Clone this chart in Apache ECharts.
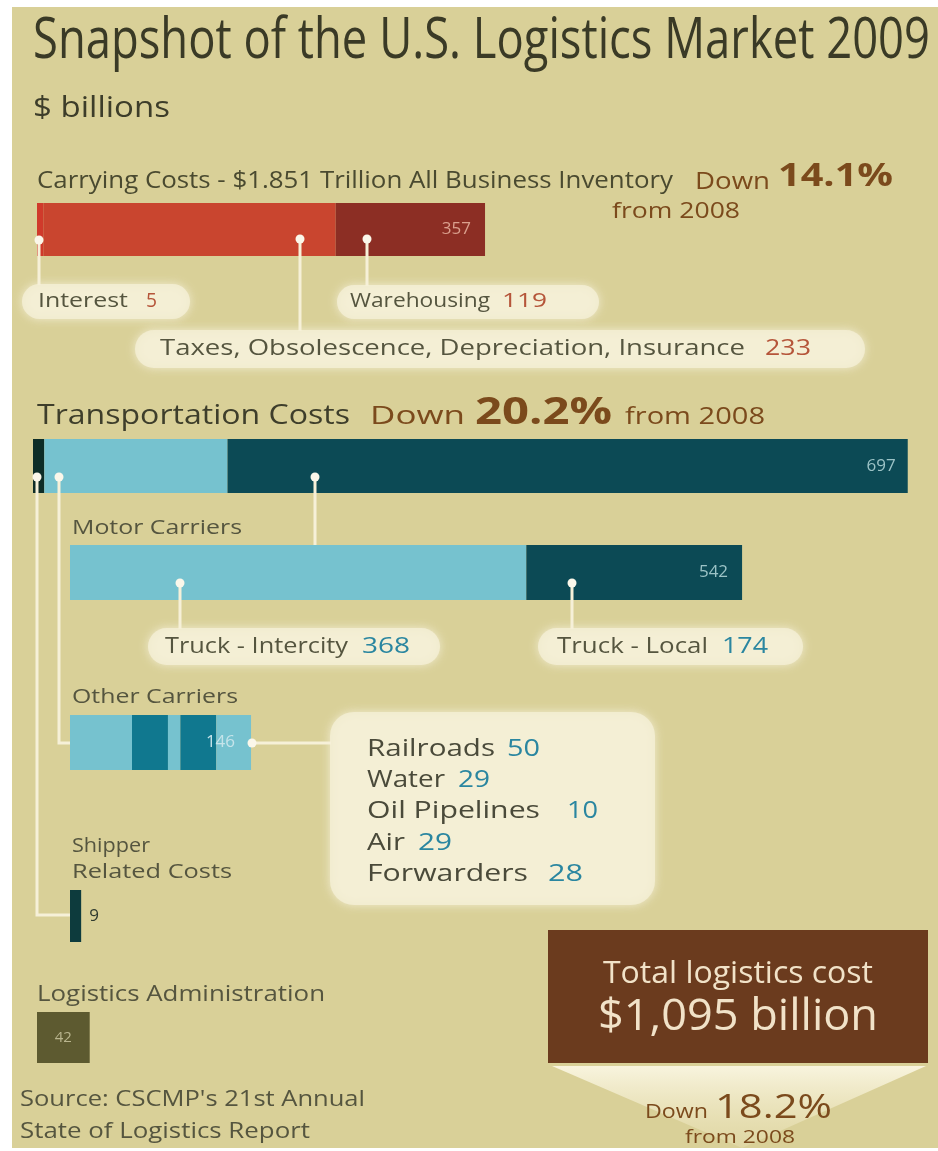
<!DOCTYPE html>
<html>
<head>
<meta charset="utf-8">
<script src="https://cdn.jsdelivr.net/npm/echarts@6/dist/echarts.min.js"></script>
<style>
  html, body { margin: 0; padding: 0; background: #ffffff; }
  #chart { width: 938px; height: 1151px; }
</style>
</head>
<body>
<div id="chart"></div>
<script>
// ---- data ($ billions) ----
const carryingNames = ['Interest', 'Taxes, Obsolescence, Depreciation, Insurance', 'Warehousing']
const carryingValues = [5, 233, 119]
const transportNames = ['Shipper Related Costs', 'Other Carriers', 'Motor Carriers']
const transportValues = [9, 146, 542]
const motorNames = ['Truck - Intercity', 'Truck - Local']
const motorValues = [368, 174]
const otherNames = ['Railroads', 'Water', 'Oil Pipelines', 'Air', 'Forwarders']
const otherValues = [50, 29, 10, 29, 28]
const shipperValues = [9]
const adminValues = [42]
const changeFrom2008 = { carrying: '14.1%', transport: '20.2%', total: '18.2%' }
const totalCostText = '$1,095 billion'

// ---- layout ----
const K = 1.255          // px per billion
const AXIS_MAX = 700
const FONT = '"Open Sans", "Noto Sans", sans-serif'
const LIGHT_BLUE = '#76c2cf'
const DARK_TEAL = '#0c4a55'
const MID_TEAL = '#10788f'

const sum = (a) => a.reduce((s, v) => s + v, 0)

const rows = [
  { left: 37, top: 203, height: 53, values: carryingValues, names: carryingNames,
    colors: ['#d03a2b', '#c9452f', '#8c2e24'], label: { color: '#dba08e', fontSize: 17, distance: 14 } },
  { left: 33, top: 439, height: 54, values: transportValues, names: transportNames,
    colors: ['#0e2d27', LIGHT_BLUE, DARK_TEAL], label: { color: '#9cc3c6', fontSize: 17, distance: 12 } },
  { left: 70, top: 545, height: 55, values: motorValues, names: motorNames,
    colors: [LIGHT_BLUE, DARK_TEAL], label: { color: '#9cc3c6', fontSize: 17, distance: 14 } },
  { left: 70, top: 715, height: 55, values: otherValues, names: otherNames,
    colors: [LIGHT_BLUE, MID_TEAL, LIGHT_BLUE, MID_TEAL, LIGHT_BLUE], label: { color: '#c6e4ea', fontSize: 17, distance: 16 } },
  { left: 70, top: 890, height: 52, values: shipperValues, names: ['Shipper Related Costs'],
    colors: ['#0d3b3d'], label: { color: '#2f3a2f', fontSize: 17, position: 'right', distance: 8 } },
  { left: 37, top: 1012, height: 51, values: adminValues, names: ['Logistics Administration'],
    colors: ['#5d5a30'], label: { color: '#b9b58e', fontSize: 15, position: 'inside' } },
]

const grids = [], xAxes = [], yAxes = [], series = []
rows.forEach((row, gi) => {
  grids.push({ left: row.left, top: row.top, height: row.height, width: AXIS_MAX * K })
  xAxes.push({ gridIndex: gi, type: 'value', min: 0, max: AXIS_MAX, show: false })
  yAxes.push({ gridIndex: gi, type: 'category', data: ['v'], show: false })
  const total = sum(row.values)
  row.values.forEach((v, i) => {
    const last = i === row.values.length - 1
    series.push({
      type: 'bar', name: row.names[i], stack: 'row' + gi,
      xAxisIndex: gi, yAxisIndex: gi, barWidth: '100%', silent: true,
      data: [v],
      itemStyle: { color: row.colors[i] },
      label: last ? {
        show: true, position: row.label.position || 'insideRight', distance: row.label.distance || 5,
        formatter: () => String(total), color: row.label.color,
        fontSize: row.label.fontSize, fontFamily: FONT,
      } : { show: false },
    })
  })
})

// ---- text helpers ----
const measureCtx = document.createElement('canvas').getContext('2d')
function txt(text, x, y, size, color, opts = {}) {
  const weight = opts.weight || 'normal'
  const font = `${weight} ${size}px ${FONT}`
  measureCtx.font = font
  const w = measureCtx.measureText(text).width
  const scaleX = opts.width ? opts.width / w : 1
  return {
    type: 'text', x, y, scaleX, z: 20, silent: true,
    style: {
      text, x: 0, y: 0, fill: color, font,
      fontSize: size, fontFamily: FONT, fontWeight: weight,
      textAlign: opts.align || 'left', align: opts.align || 'left',
      textVerticalAlign: 'middle', verticalAlign: 'middle',
    },
  }
}
const CREAM = '#f6f0d8'
const pill = (x, y, w, h, r) => ({
  type: 'rect', z: 5, silent: true,
  shape: { x, y, width: w, height: h, r: r || h / 2 },
  style: { fill: 'rgba(244,239,214,0.82)', shadowBlur: 10, shadowColor: 'rgba(250,246,228,0.9)' },
})
const line = (pts) => ({
  type: 'polyline', z: 15, silent: true,
  shape: { points: pts }, style: { stroke: CREAM, lineWidth: 3, fill: null },
})
const dot = (x, y) => ({ type: 'circle', z: 16, silent: true, shape: { cx: x, cy: y, r: 4.5 }, style: { fill: '#fbf7ea' } })

const BROWN = '#7b4a1c'
const LABEL = '#55553f'
const RED_NUM = '#b5553a'
const TEAL_NUM = '#2a86a0'

const graphics = [
  // background
  { type: 'rect', z: -10, silent: true, shape: { x: 12, y: 7, width: 926, height: 1141 }, style: { fill: '#d9d098' } },

  // heading
  txt('Snapshot of the U.S. Logistics Market 2009', 33, 42, 56, '#3a3a26', { width: 897 }),
  txt('$ billions', 33, 108, 30, '#3d3d2a', { width: 137 }),

  // carrying costs
  txt('Carrying Costs - $1.851 Trillion All Business Inventory', 37, 181, 24, '#4a4a30', { width: 636 }),
  txt('Down', 695, 182, 23, BROWN, { width: 75 }),
  txt(changeFrom2008.carrying, 778, 177, 33, BROWN, { width: 115, weight: 'bold' }),
  txt('from 2008', 612, 212, 21, BROWN, { width: 128 }),

  pill(22, 284, 168, 35), pill(337, 285, 262, 34), pill(135, 330, 730, 38),
  line([[39, 240], [39, 285]]), line([[300, 239], [300, 331]]), line([[367, 239], [367, 286]]),
  dot(39, 240), dot(300, 239), dot(367, 239),
  txt(carryingNames[0], 38, 301, 20, LABEL, { width: 90 }),
  txt(String(carryingValues[0]), 146, 301, 20, RED_NUM, { width: 11 }),
  txt(carryingNames[2], 350, 301, 20, LABEL, { width: 140 }),
  txt(String(carryingValues[2]), 502, 301, 20, RED_NUM, { width: 45 }),
  txt(carryingNames[1], 160, 349, 22, LABEL, { width: 585 }),
  txt(String(carryingValues[1]), 765, 349, 22, RED_NUM, { width: 46 }),

  // transportation costs
  txt('Transportation Costs', 37, 416, 27, '#3e3e2b', { width: 313 }),
  txt('Down', 370, 417, 26, BROWN, { width: 95 }),
  txt(changeFrom2008.transport, 475, 413, 37, BROWN, { width: 137, weight: 'bold' }),
  txt('from 2008', 625, 417, 24, BROWN, { width: 140 }),

  line([[37, 477], [37, 915], [70, 915]]),
  line([[59, 477], [59, 743], [70, 743]]),
  line([[315, 477], [315, 545]]),
  dot(37, 477), dot(59, 477), dot(315, 477),

  txt('Motor Carriers', 72, 528, 20, LABEL, { width: 170 }),
  pill(148, 628, 292, 37), pill(538, 628, 265, 37),
  line([[180, 583], [180, 629]]), line([[572, 583], [572, 629]]),
  dot(180, 583), dot(572, 583),
  txt(motorNames[0], 165, 647, 21, LABEL, { width: 183 }),
  txt(String(motorValues[0]), 362, 647, 21, TEAL_NUM, { width: 48 }),
  txt(motorNames[1], 557, 647, 21, LABEL, { width: 151 }),
  txt(String(motorValues[1]), 722, 647, 21, TEAL_NUM, { width: 46 }),

  txt('Other Carriers', 72, 697, 20, LABEL, { width: 166 }),
  pill(330, 712, 325, 193, 24),
  line([[252, 743], [331, 743]]), dot(252, 743),
  txt(otherNames[0], 367, 749, 24, '#4a4a3a', { width: 128 }),
  txt(String(otherValues[0]), 507, 749, 24, TEAL_NUM, { width: 33 }),
  txt(otherNames[1], 367, 780, 24, '#4a4a3a', { width: 78 }),
  txt(String(otherValues[1]), 458, 780, 24, TEAL_NUM, { width: 32 }),
  txt(otherNames[2], 367, 811, 24, '#4a4a3a', { width: 173 }),
  txt(String(otherValues[2]), 567, 811, 24, TEAL_NUM, { width: 31 }),
  txt(otherNames[3], 367, 843, 24, '#4a4a3a', { width: 38 }),
  txt(String(otherValues[3]), 418, 843, 24, TEAL_NUM, { width: 34 }),
  txt(otherNames[4], 367, 874, 24, '#4a4a3a', { width: 161 }),
  txt(String(otherValues[4]), 548, 874, 24, TEAL_NUM, { width: 35 }),

  txt('Shipper', 72, 846, 20, LABEL, { width: 78 }),
  txt('Related Costs', 72, 872, 20, LABEL, { width: 160 }),

  txt('Logistics Administration', 37, 995, 21, LABEL, { width: 288 }),

  txt("Source: CSCMP's 21st Annual", 20, 1100, 21, LABEL, { width: 345 }),
  txt('State of Logistics Report', 20, 1132, 21, LABEL, { width: 290 }),

  // total box
  {
    type: 'polygon', z: 1, silent: true,
    shape: { points: [[552, 1066], [926, 1066], [742, 1148]] },
    style: { fill: new echarts.graphic.LinearGradient(0, 0, 0, 1, [
      { offset: 0, color: 'rgba(250,246,226,0.95)' },
      { offset: 1, color: 'rgba(236,228,186,0.35)' },
    ]) },
  },
  { type: 'rect', z: 2, silent: true, shape: { x: 548, y: 930, width: 380, height: 133 }, style: { fill: '#6b3b1e' } },
  txt('Total logistics cost', 738, 974, 31, '#f1e2c8', { width: 270, align: 'center' }),
  txt(totalCostText, 738, 1017, 44, '#f1e2c8', { width: 280, align: 'center' }),
  txt('Down', 645, 1112, 20, BROWN, { width: 63 }),
  txt(changeFrom2008.total, 715, 1109, 32, BROWN, { width: 117 }),
  txt('from 2008', 740, 1138, 18, BROWN, { width: 110, align: 'center' }),
]

const chart = echarts.init(document.getElementById('chart'))
chart.setOption({
  backgroundColor: '#ffffff',
  animation: false,
  grid: grids,
  xAxis: xAxes,
  yAxis: yAxes,
  series,
  graphic: { elements: graphics },
})
</script>
</body>
</html>
